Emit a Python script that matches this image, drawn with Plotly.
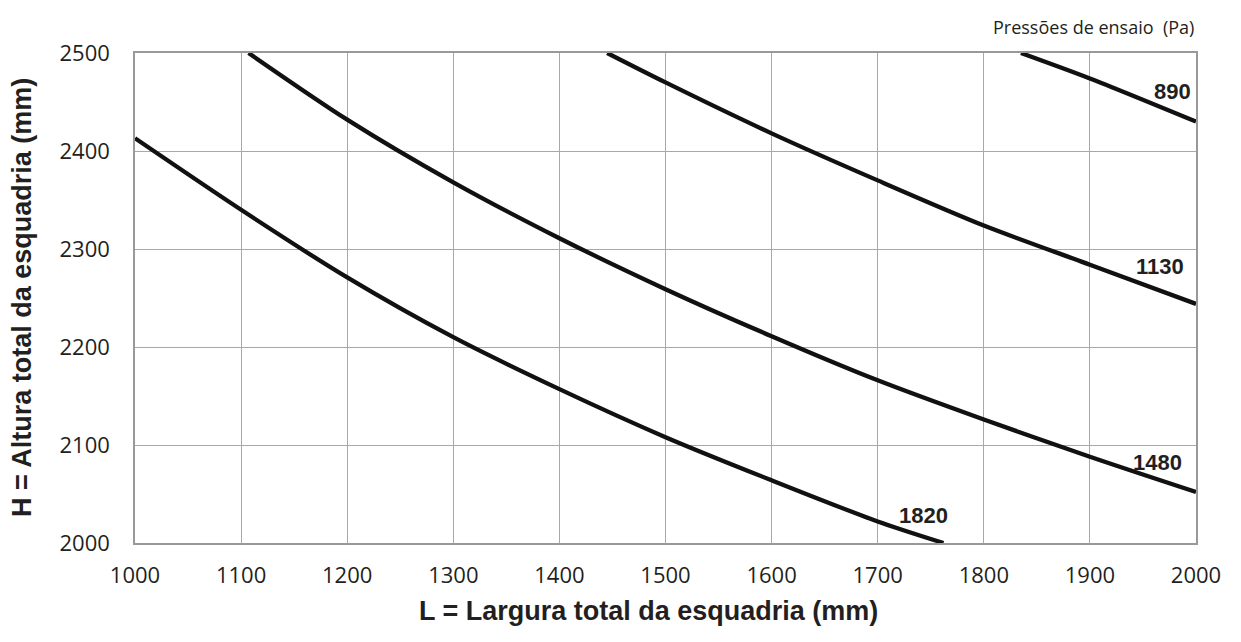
import plotly.graph_objects as go

# Curves (L in mm, H in mm)
x_1820 = [1000, 1100, 1200, 1300, 1400, 1500, 1600, 1700, 1762]
y_1820 = [2413, 2340, 2271, 2210, 2157, 2108, 2064, 2022, 2000]

x_1480 = [1107, 1200, 1300, 1400, 1500, 1600, 1700, 1800, 1900, 2000]
y_1480 = [2500, 2432, 2368, 2311, 2259, 2211, 2166, 2126, 2088, 2052]

x_1130 = [1445, 1500, 1600, 1700, 1800, 1900, 2000]
y_1130 = [2500, 2470, 2418, 2370, 2324, 2284, 2244]

x_890 = [1835, 1900, 2000]
y_890 = [2500, 2474, 2430]

curve_names = ["1820", "1480", "1130", "890"]
label_x = [1743, 1964, 1966, 1978]
label_y = [2028, 2082, 2282, 2461]

x_ticks = [1000, 1100, 1200, 1300, 1400, 1500, 1600, 1700, 1800, 1900, 2000]
y_ticks = [2000, 2100, 2200, 2300, 2400, 2500]

series = [(x_1820, y_1820), (x_1480, y_1480), (x_1130, y_1130), (x_890, y_890)]

fig = go.Figure()
for name, (xs, ys) in zip(curve_names, series):
    fig.add_trace(go.Scatter(
        x=xs, y=ys, mode="lines", name=name,
        line=dict(color="#111111", width=4.3, shape="spline", smoothing=0.8),
        showlegend=False, hoverinfo="x+y"))

grid = "#a8a8a8"
tick_font = dict(family="Open Sans", size=22, color="#231f20")

fig.update_xaxes(range=[1000, 2000], tickvals=x_ticks, showgrid=True, gridcolor=grid, gridwidth=1.2,
                 zeroline=False, showline=True, linecolor="#999999", linewidth=1.5, mirror=True,
                 ticks="outside", ticklen=12, tickcolor="rgba(0,0,0,0)", tickfont=tick_font)
fig.update_yaxes(range=[2000, 2500], tickvals=y_ticks, showgrid=True, gridcolor=grid, gridwidth=1.2,
                 zeroline=False, showline=True, linecolor="#999999", linewidth=1.5, mirror=True,
                 ticks="outside", ticklen=19, tickcolor="rgba(0,0,0,0)", tickfont=tick_font)

annotations = []
for name, lx, ly in zip(curve_names, label_x, label_y):
    annotations.append(dict(x=lx, y=ly, xref="x", yref="y", text="<b>" + name + "</b>", showarrow=False,
                            font=dict(family="Liberation Sans", size=22, color="#231f20"),
                            xanchor="center", yanchor="middle"))

annotations.append(dict(x=1, y=1, xref="paper", yref="paper", text="Pressões de ensaio  (Pa)", showarrow=False,
                        xanchor="right", yanchor="middle", yshift=26,
                        font=dict(family="Open Sans", size=18, color="#231f20")))
annotations.append(dict(x=0.484, y=0, xref="paper", yref="paper", text="<b>L = Largura total da esquadria (mm)</b>",
                        showarrow=False, xanchor="center", yanchor="middle", yshift=-68,
                        font=dict(family="Liberation Sans", size=27, color="#231f20")))
annotations.append(dict(x=0, y=0.5, xref="paper", yref="paper", text="<b>H = Altura total da esquadria (mm)</b>",
                        showarrow=False, xanchor="center", yanchor="middle", xshift=-113, textangle=-90,
                        font=dict(family="Liberation Sans", size=27, color="#231f20")))

# page has an 8px body margin, so the figure is sized and offset to compensate
fig.update_layout(width=1225, height=626, margin=dict(l=127, r=26, t=45, b=91),
                  plot_bgcolor="white", paper_bgcolor="white", annotations=annotations)

fig.write_html("out.html")
